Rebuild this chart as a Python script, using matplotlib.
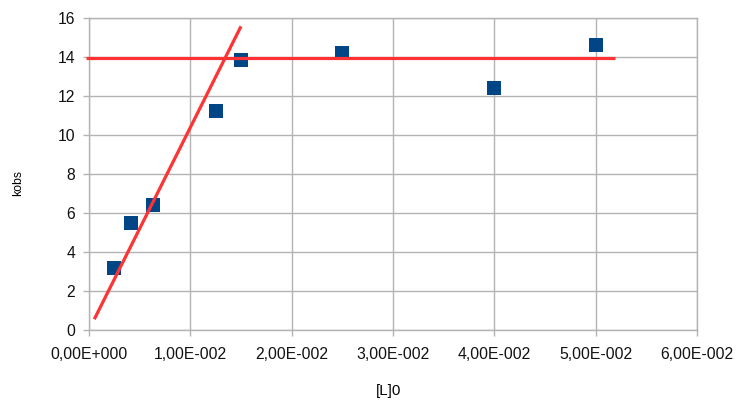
import matplotlib
matplotlib.use("Agg")
import matplotlib.pyplot as plt
from matplotlib.ticker import FixedLocator, FuncFormatter

# Measured rate constants vs. initial ligand concentration
conc_L0 = [0.0025, 0.0041, 0.0063, 0.0125, 0.015, 0.025, 0.04, 0.05]
k_obs = [3.2, 5.5, 6.4, 11.2, 13.8, 14.2, 12.4, 14.6]

# Hand-drawn trend lines: initial slope and plateau
slope_x = [0.00052, 0.0150]
slope_y = [0.55, 15.55]
plateau_x = [-0.0003, 0.0519]
plateau_y = [13.95, 13.95]

x_ticks = [0.0, 0.01, 0.02, 0.03, 0.04, 0.05, 0.06]
y_ticks = [0, 2, 4, 6, 8, 10, 12, 14, 16]

plt.rcParams["font.family"] = ["Liberation Sans", "DejaVu Sans"]

fig = plt.figure(figsize=(7.37, 4.01), dpi=100)
ax = fig.add_axes([89 / 737, 71 / 401, 608 / 737, 312.5 / 401])

grid_color = "#b3b3b3"
ax.set_xlim(0, 0.06)
ax.set_ylim(0, 16)
ax.xaxis.set_major_locator(FixedLocator(x_ticks))
ax.yaxis.set_major_locator(FixedLocator(y_ticks))


def sci_comma(v, pos):
    if v == 0:
        return "0,00E+000"
    exp = 0
    m = v
    while abs(m) < 1:
        m *= 10
        exp -= 1
    return f"{m:.2f}".replace(".", ",") + f"E-{abs(exp):03d}"


ax.xaxis.set_major_formatter(FuncFormatter(sci_comma))
ax.grid(True, color=grid_color, linewidth=1.0)
ax.set_axisbelow(True)
for side in ax.spines.values():
    side.set_color(grid_color)
    side.set_linewidth(1.0)
ax.tick_params(axis="both", colors=grid_color, length=4, width=1.0,
               labelcolor="#111111", labelsize=11.3)
ax.tick_params(axis="y", pad=6)
ax.tick_params(axis="x", pad=8)

ax.scatter(conc_L0, k_obs, marker="s", s=95, color="#004586",
           zorder=3, linewidths=0)
ax.plot(slope_x, slope_y, color="#ff3333", linewidth=2.3, zorder=4,
        solid_capstyle="butt", clip_on=False)
ax.plot(plateau_x, plateau_y, color="#ff3333", linewidth=2.3, zorder=4,
        solid_capstyle="butt", clip_on=False)

fig.text(18 / 737, 1 - 183 / 401, "kobs", rotation=90, ha="center",
         va="center", fontsize=8.8)
fig.text(389 / 737, 1 - 391 / 401, "[L]0", ha="center", va="center",
         fontsize=10.8)

fig.savefig("out.png", dpi=100)
